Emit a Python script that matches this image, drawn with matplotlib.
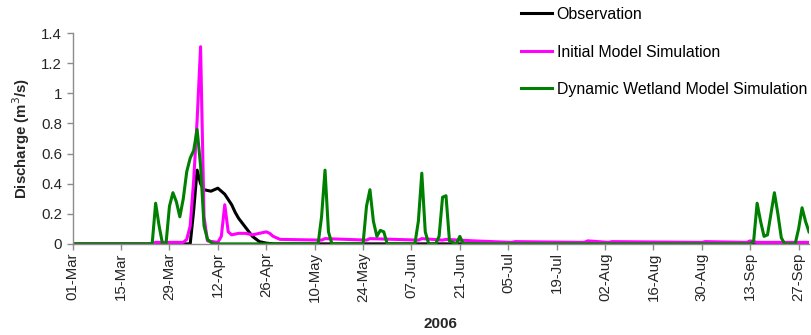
import matplotlib
matplotlib.use("Agg")
import matplotlib.pyplot as plt
import matplotlib.dates as mdates
from matplotlib.ticker import FuncFormatter, MultipleLocator
import pandas as pd

plt.rcParams['font.family'] = ['Liberation Sans', 'DejaVu Sans']

# Daily discharge (m3/s), 2006 season; listed at the dates where the curves change
obs_dates = ["2006-03-01", "2006-04-04", "2006-04-05", "2006-04-06", "2006-04-07",
             "2006-04-08", "2006-04-10", "2006-04-12", "2006-04-13", "2006-04-14",
             "2006-04-16", "2006-04-17", "2006-04-18", "2006-04-20", "2006-04-22",
             "2006-04-24", "2006-04-26", "2006-04-28", "2006-09-30"]
obs_values = [0.0, 0.0, 0.22, 0.49, 0.40,
              0.36, 0.35, 0.37, 0.35, 0.33,
              0.26, 0.21, 0.17, 0.11, 0.05,
              0.015, 0.005, 0.0, 0.0]

init_dates = ["2006-03-01", "2006-03-24", "2006-03-25", "2006-04-02", "2006-04-03",
              "2006-04-04", "2006-04-05", "2006-04-06", "2006-04-07", "2006-04-08",
              "2006-04-09", "2006-04-12", "2006-04-13", "2006-04-14", "2006-04-15",
              "2006-04-16", "2006-04-18", "2006-04-20", "2006-04-22", "2006-04-24",
              "2006-04-26", "2006-04-27", "2006-04-28", "2006-04-30", "2006-05-12",
              "2006-05-13", "2006-05-25", "2006-05-26", "2006-06-09", "2006-06-10",
              "2006-06-16", "2006-06-17", "2006-06-25", "2006-07-06", "2006-07-07",
              "2006-07-27", "2006-07-28", "2006-08-03", "2006-08-04", "2006-08-30",
              "2006-08-31", "2006-09-12", "2006-09-13", "2006-09-15", "2006-09-30"]
init_values = [0.0, 0.0, 0.01, 0.01, 0.03,
               0.12, 0.42, 0.82, 1.31, 0.18,
               0.02, 0.01, 0.05, 0.26, 0.08,
               0.06, 0.07, 0.07, 0.06, 0.07,
               0.08, 0.07, 0.05, 0.03, 0.025,
               0.035, 0.025, 0.035, 0.025, 0.035,
               0.025, 0.03, 0.02, 0.01, 0.015,
               0.01, 0.02, 0.01, 0.015, 0.01,
               0.015, 0.01, 0.02, 0.01, 0.01]

wet_dates = ["2006-03-01", "2006-03-24", "2006-03-25", "2006-03-26", "2006-03-27",
             "2006-03-28", "2006-03-29", "2006-03-30", "2006-03-31", "2006-04-01",
             "2006-04-02", "2006-04-03", "2006-04-04", "2006-04-05", "2006-04-06",
             "2006-04-07", "2006-04-08", "2006-04-09", "2006-04-10", "2006-04-11",
             "2006-05-11", "2006-05-12", "2006-05-13", "2006-05-14", "2006-05-15",
             "2006-05-24", "2006-05-25", "2006-05-26", "2006-05-27", "2006-05-28",
             "2006-05-29", "2006-05-30", "2006-05-31",
             "2006-06-08", "2006-06-09", "2006-06-10", "2006-06-11", "2006-06-12",
             "2006-06-14", "2006-06-15", "2006-06-16", "2006-06-17", "2006-06-18",
             "2006-06-20", "2006-06-21", "2006-06-22",
             "2006-09-13", "2006-09-14", "2006-09-15", "2006-09-16", "2006-09-17",
             "2006-09-18", "2006-09-19", "2006-09-20", "2006-09-21", "2006-09-22",
             "2006-09-23", "2006-09-26", "2006-09-27", "2006-09-28", "2006-09-29",
             "2006-09-30"]
wet_values = [0.0, 0.0, 0.27, 0.12, 0.0,
              0.0, 0.25, 0.34, 0.28, 0.18,
              0.30, 0.48, 0.57, 0.62, 0.76,
              0.52, 0.12, 0.03, 0.01, 0.0,
              0.0, 0.18, 0.49, 0.08, 0.0,
              0.0, 0.25, 0.36, 0.15, 0.05,
              0.09, 0.08, 0.0,
              0.0, 0.15, 0.47, 0.08, 0.0,
              0.0, 0.05, 0.31, 0.32, 0.02,
              0.0, 0.05, 0.0,
              0.0, 0.02, 0.27, 0.15, 0.05,
              0.06, 0.2, 0.34, 0.2, 0.04,
              0.0, 0.0, 0.1, 0.24, 0.15,
              0.08]

tick_dates = ["2006-03-01", "2006-03-15", "2006-03-29", "2006-04-12", "2006-04-26",
              "2006-05-10", "2006-05-24", "2006-06-07", "2006-06-21", "2006-07-05",
              "2006-07-19", "2006-08-02", "2006-08-16", "2006-08-30", "2006-09-13",
              "2006-09-27"]

fig = plt.figure(figsize=(8.11, 3.35), dpi=100)
ax = fig.add_axes([0.0896, 0.272, 0.9079, 0.629])

ax.plot(pd.to_datetime(obs_dates), obs_values, color="black", lw=2.2,
        label="Observation")
ax.plot(pd.to_datetime(init_dates), init_values, color="#ff00ff", lw=2.2,
        label="Initial Model Simulation")
ax.plot(pd.to_datetime(wet_dates), wet_values, color="#008000", lw=2.2,
        label="Dynamic Wetland Model Simulation")

ax.set_xlim(pd.Timestamp("2006-03-01"), pd.Timestamp("2006-09-30"))
ax.set_ylim(0, 1.4)
ax.yaxis.set_major_locator(MultipleLocator(0.2))
ax.yaxis.set_major_formatter(FuncFormatter(lambda v, p: f"{v:g}"))
ax.set_xticks(pd.to_datetime(tick_dates))
ax.xaxis.set_major_formatter(mdates.DateFormatter("%d-%b"))

for s in ("top", "right"):
    ax.spines[s].set_visible(False)
for s in ("left", "bottom"):
    ax.spines[s].set_color("#8c8c8c")
    ax.spines[s].set_linewidth(1.0)
ax.tick_params(axis="both", colors="#8c8c8c", labelcolor="#262626",
               labelsize=10.8, length=4, width=1.0)
ax.tick_params(axis="x", labelrotation=90, pad=2)

ax.set_ylabel("Discharge (m$^3$/s)", fontsize=10.8, fontweight="bold",
              color="#262626", labelpad=7)
ax.set_xlabel("2006", fontsize=11, fontweight="bold", color="#262626",
              labelpad=11)

fig.legend(loc="upper left", bbox_to_anchor=(0.643, 0.979), frameon=False,
           fontsize=11.4, handlelength=1.9, handletextpad=0.32,
           labelspacing=1.42, borderpad=0, borderaxespad=0)

fig.savefig("out.png", dpi=100)
